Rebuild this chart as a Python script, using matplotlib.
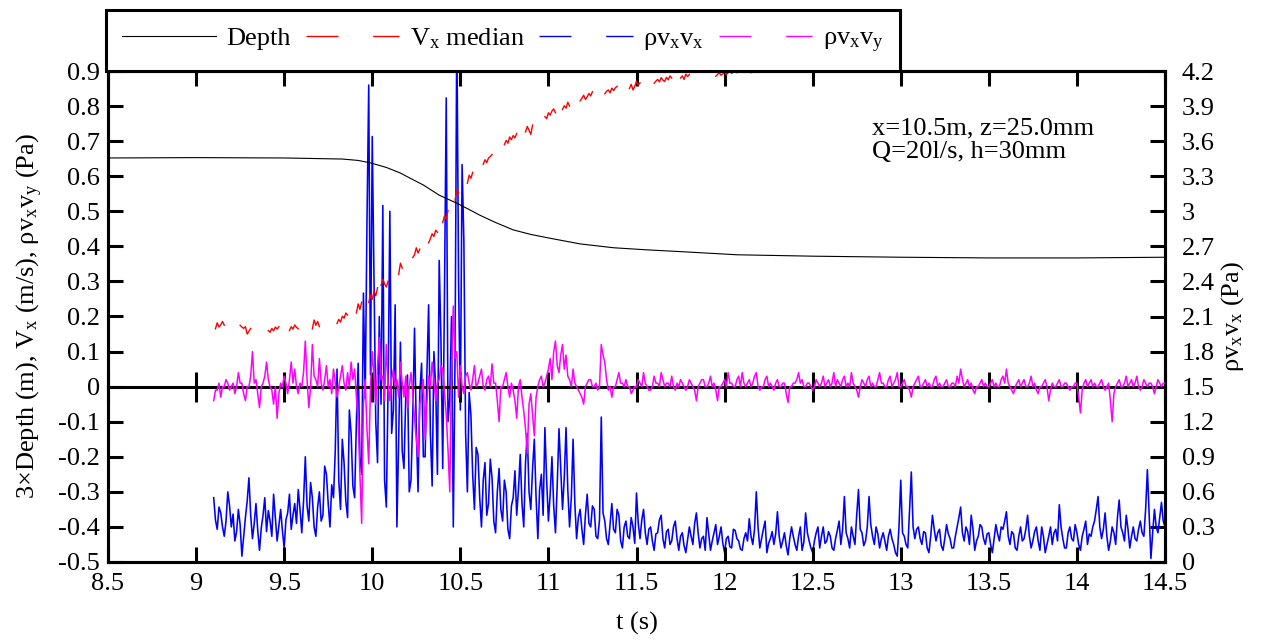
import numpy as np
import matplotlib
matplotlib.use("Agg")
import matplotlib.pyplot as plt
from matplotlib.lines import Line2D
from matplotlib.ticker import FixedLocator, FuncFormatter

plt.rcParams.update({
    "font.family": ["Liberation Serif", "DejaVu Serif"],
    "mathtext.fontset": "custom",
    "mathtext.rm": "Liberation Serif",
    "mathtext.it": "Liberation Serif:italic",
    "axes.unicode_minus": False,
    "font.size": 19,
})

# ---- water depth (3 x depth, m) ----
depth_t = [8.50, 9.00, 9.50, 9.83, 9.92, 9.99, 10.08, 10.16, 10.22, 10.29, 10.38,
           10.48, 10.55, 10.61, 10.70, 10.80, 10.90, 11.00, 11.18, 11.37, 11.56,
           11.75, 12.07, 12.50, 13.00, 13.50, 14.00, 14.50]
depth_3x = [0.652, 0.653, 0.652, 0.649, 0.645, 0.638, 0.625, 0.609, 0.593, 0.575, 0.546,
            0.523, 0.505, 0.489, 0.468, 0.447, 0.434, 0.424, 0.407, 0.396, 0.390,
            0.385, 0.376, 0.372, 0.369, 0.367, 0.367, 0.369]

# ---- median streamwise velocity (m/s), valid stretches sampled every 0.01 s ----
vx_seg_start = [9.11, 9.25, 9.41, 9.53, 9.66, 9.80, 9.91, 9.98, 10.05, 10.15,
                10.23, 10.32, 10.40, 10.47, 10.54, 10.63, 10.75, 10.87, 10.98, 11.08,
                11.18, 11.32, 11.46, 11.60, 11.75, 11.95, 12.15, 12.26, 12.35]
vx_seg_vals = [
    [0.165, 0.182, 0.170, 0.176, 0.186, 0.175],
    [0.175, 0.170, 0.166, 0.171, 0.150, 0.158, 0.166],
    [0.160, 0.155, 0.166, 0.159, 0.170, 0.164, 0.171],
    [0.160, 0.171, 0.164, 0.176, 0.169, 0.165],
    [0.165, 0.190, 0.175, 0.186, 0.171],
    [0.180, 0.192, 0.184, 0.201, 0.195, 0.210, 0.204],
    [0.210, 0.236, 0.220, 0.241],
    [0.240, 0.262, 0.249, 0.272, 0.259, 0.282],
    [0.289, 0.306, 0.293, 0.284, 0.301],
    [0.320, 0.352, 0.338],
    [0.368, 0.376, 0.396, 0.381, 0.392],
    [0.410, 0.422, 0.436, 0.428, 0.446, 0.440],
    [0.468, 0.487, 0.479, 0.502],
    [0.532, 0.562, 0.553],
    [0.580, 0.603, 0.594, 0.611],
    [0.634, 0.647, 0.639, 0.652, 0.656, 0.662],
    [0.690, 0.702, 0.694, 0.712, 0.704, 0.716, 0.709, 0.722],
    [0.726, 0.742, 0.731, 0.719, 0.746],
    [0.770, 0.764, 0.781, 0.774, 0.786, 0.792, 0.781],
    [0.790, 0.801, 0.794, 0.811, 0.800],
    [0.815, 0.822, 0.831, 0.819, 0.826, 0.836, 0.829, 0.841],
    [0.835, 0.842, 0.846, 0.838, 0.851, 0.844, 0.852, 0.856],
    [0.850, 0.862, 0.846, 0.856, 0.871, 0.860, 0.866],
    [0.865, 0.871, 0.876, 0.869, 0.881, 0.874, 0.870, 0.882, 0.875, 0.886, 0.880],
    [0.880, 0.886, 0.876, 0.891, 0.884, 0.890],
    [0.885, 0.890, 0.895, 0.888, 0.892, 0.897, 0.890, 0.895, 0.899, 0.893, 0.897,
     0.900, 0.895, 0.898, 0.900, 0.897],
    [0.895, 0.898, 0.900, 0.896, 0.899, 0.901],
    [0.898, 0.900, 0.897, 0.902],
    [0.899, 0.901, 0.903, 0.900, 0.905],
]

# ---- Reynolds stresses (Pa), sampled every 0.01 s from 9.10 s to 14.50 s ----
turb_t0, turb_dt = 9.10, 0.01
rho_vxvx = [
    0.55, 0.36, 0.28, 0.47, 0.42, 0.30, 0.22, 0.35, 0.60, 0.48, 0.30, 0.41, 0.18, 0.26, 0.45, 0.32, 0.05, 0.22, 0.38, 0.52,
    0.72, 0.40, 0.20, 0.33, 0.50, 0.27, 0.10, 0.29, 0.40, 0.55, 0.26, 0.44, 0.35, 0.22, 0.58, 0.38, 0.18, 0.31, 0.45, 0.27,
    0.12, 0.36, 0.42, 0.58, 0.28, 0.40, 0.50, 0.33, 0.62, 0.45, 0.25, 0.52, 0.90, 0.48, 0.35, 0.68, 0.55, 0.30, 0.22, 0.47,
    0.60, 0.35, 0.40, 0.82, 0.75, 0.50, 0.30, 0.66, 0.55, 0.95, 1.65, 0.70, 0.45, 1.05, 0.85, 0.52, 0.38, 1.30, 1.10, 0.65,
    0.55, 1.20, 1.70, 0.90, 0.75, 2.30, 1.40, 2.90, 4.08, 1.60, 3.64, 2.40, 1.20, 0.85, 2.10, 1.35, 3.05, 0.70, 0.47, 1.50,
    3.00, 1.10, 1.30, 2.20, 0.30, 1.05, 1.88, 0.95, 0.80, 1.40, 1.60, 0.60, 0.70, 1.25, 2.00, 1.15, 0.60, 1.45, 1.70, 0.90,
    0.90, 1.60, 2.20, 1.10, 0.65, 1.80, 1.50, 0.75, 2.58, 1.90, 0.80, 2.30, 3.97, 1.20, 1.40, 2.10, 0.30, 1.75, 4.60, 2.40,
    1.30, 3.40, 2.75, 1.10, 0.60, 1.45, 1.26, 0.75, 0.45, 0.98, 0.92, 0.55, 0.30, 0.70, 0.85, 0.40, 0.50, 0.88, 0.72, 0.35,
    0.25, 0.60, 0.80, 0.45, 0.35, 0.70, 0.60, 0.28, 0.20, 0.48, 0.55, 0.78, 0.40, 0.62, 0.92, 0.50, 0.30, 0.85, 1.10, 0.60,
    0.45, 0.80, 1.05, 0.55, 0.20, 0.62, 0.75, 0.40, 1.15, 0.70, 0.35, 0.58, 0.90, 0.48, 0.25, 0.66, 1.14, 0.80, 0.45, 0.72,
    1.15, 0.62, 0.30, 0.55, 1.05, 0.50, 0.20, 0.38, 0.45, 0.28, 0.15, 0.40, 0.58, 0.33, 0.30, 0.48, 0.45, 0.22, 0.20, 0.36,
    1.24, 0.42, 0.35, 0.20, 0.15, 0.32, 0.50, 0.28, 0.25, 0.45, 0.40, 0.18, 0.12, 0.30, 0.35, 0.22, 0.20, 0.38, 0.30, 0.16,
    0.59, 0.33, 0.20, 0.36, 0.45, 0.25, 0.15, 0.28, 0.30, 0.18, 0.10, 0.24, 0.25, 0.36, 0.40, 0.20, 0.12, 0.26, 0.28, 0.15,
    0.18, 0.30, 0.35, 0.20, 0.10, 0.22, 0.25, 0.14, 0.08, 0.19, 0.30, 0.22, 0.15, 0.33, 0.42, 0.25, 0.12, 0.20, 0.22, 0.10,
    0.38, 0.24, 0.10, 0.18, 0.25, 0.32, 0.15, 0.22, 0.30, 0.16, 0.08, 0.20, 0.22, 0.13, 0.12, 0.28, 0.27, 0.20, 0.18, 0.11,
    0.10, 0.20, 0.25, 0.18, 0.37, 0.22, 0.15, 0.28, 0.60, 0.30, 0.12, 0.20, 0.28, 0.35, 0.08, 0.16, 0.20, 0.26, 0.15, 0.24,
    0.43, 0.22, 0.12, 0.18, 0.25, 0.14, 0.06, 0.20, 0.30, 0.22, 0.15, 0.10, 0.22, 0.30, 0.10, 0.17, 0.42, 0.25, 0.18, 0.12,
    0.08, 0.18, 0.25, 0.30, 0.12, 0.22, 0.30, 0.16, 0.18, 0.26, 0.22, 0.12, 0.10, 0.20, 0.27, 0.35, 0.15, 0.28, 0.56, 0.25,
    0.20, 0.12, 0.30, 0.22, 0.15, 0.40, 0.62, 0.28, 0.25, 0.14, 0.18, 0.30, 0.56, 0.32, 0.22, 0.15, 0.30, 0.24, 0.12, 0.20,
    0.25, 0.18, 0.10, 0.22, 0.28, 0.20, 0.15, 0.08, 0.05, 0.30, 0.70, 0.25, 0.22, 0.15, 0.12, 0.45, 0.77, 0.30, 0.20, 0.28,
    0.30, 0.20, 0.15, 0.26, 0.25, 0.12, 0.08, 0.22, 0.40, 0.28, 0.18, 0.25, 0.28, 0.14, 0.10, 0.20, 0.32, 0.24, 0.20, 0.12,
    0.12, 0.22, 0.30, 0.38, 0.47, 0.25, 0.18, 0.30, 0.26, 0.15, 0.40, 0.28, 0.10, 0.18, 0.22, 0.32, 0.30, 0.20, 0.15, 0.24,
    0.25, 0.15, 0.08, 0.20, 0.32, 0.24, 0.18, 0.30, 0.28, 0.35, 0.43, 0.22, 0.15, 0.26, 0.24, 0.12, 0.10, 0.22, 0.30, 0.18,
    0.20, 0.28, 0.40, 0.22, 0.12, 0.18, 0.26, 0.30, 0.18, 0.10, 0.30, 0.22, 0.08, 0.15, 0.22, 0.30, 0.15, 0.25, 0.28, 0.18,
    0.49, 0.30, 0.20, 0.12, 0.12, 0.25, 0.30, 0.20, 0.18, 0.32, 0.25, 0.15, 0.10, 0.22, 0.28, 0.35, 0.15, 0.24, 0.22, 0.30,
    0.35, 0.45, 0.56, 0.30, 0.20, 0.28, 0.42, 0.22, 0.10, 0.18, 0.30, 0.25, 0.15, 0.38, 0.53, 0.30, 0.25, 0.18, 0.40, 0.28,
    0.12, 0.22, 0.30, 0.20, 0.18, 0.28, 0.35, 0.25, 0.22, 0.45, 0.79, 0.40, 0.03, 0.25, 0.45, 0.30, 0.25, 0.38, 0.51, 0.35,
    0.30,
]
rho_vxvy = [
    -0.04, -0.01, -0.01, 0.01, -0.03, 0.00, 0.00, 0.02, 0.01, -0.01, 0.00, 0.01, -0.02, 0.00, 0.04, 0.01, 0.01, -0.02, -0.04, 0.00,
    0.00, 0.03, 0.10, 0.01, 0.02, -0.02, -0.06, 0.00, 0.01, 0.03, 0.07, 0.02, 0.00, -0.01, -0.05, 0.00, -0.09, -0.02, 0.01, 0.00,
    0.03, 0.01, -0.02, 0.02, 0.07, 0.01, 0.05, 0.00, -0.02, 0.01, 0.00, 0.04, 0.13, 0.02, -0.06, 0.00, 0.12, 0.03, 0.02, 0.00,
    0.08, 0.01, -0.01, 0.02, 0.06, 0.00, 0.02, -0.02, 0.05, 0.01, -0.03, 0.00, 0.03, 0.06, 0.01, -0.01, 0.04, 0.00, 0.07, 0.02,
    0.05, -0.03, -0.10, -0.25, -0.39, -0.05, 0.02, -0.12, -0.22, 0.00, 0.10, 0.03, -0.05, 0.06, 0.14, 0.02, 0.03, -0.04, 0.12, 0.01,
    -0.04, 0.02, 0.05, 0.00, 0.02, -0.03, 0.07, 0.01, -0.03, 0.03, -0.06, 0.00, 0.04, -0.02, -0.09, -0.15, -0.20, -0.05, -0.02, 0.02,
    -0.15, -0.05, 0.03, 0.00, 0.07, 0.02, -0.04, 0.01, 0.02, 0.06, 0.05, -0.02, -0.08, -0.18, -0.30, 0.05, 0.23, 0.08, 0.10, -0.03,
    0.06, 0.00, -0.02, 0.03, 0.04, 0.01, -0.01, 0.02, 0.06, 0.00, 0.01, 0.03, 0.05, 0.00, -0.01, 0.02, 0.03, 0.00, 0.065, 0.01,
    0.01, -0.04, -0.10, 0.00, 0.00, 0.02, 0.04, 0.00, -0.03, 0.01, -0.01, -0.04, -0.09, 0.00, 0.02, -0.03, -0.07, -0.12, -0.19, -0.05,
    -0.02, -0.08, -0.14, -0.03, 0.00, 0.02, 0.03, 0.00, 0.01, 0.03, 0.05, 0.08, 0.02, 0.10, 0.13, 0.06, 0.04, 0.09, 0.12, 0.05,
    0.09, 0.03, 0.02, 0.00, 0.05, 0.01, 0.00, -0.01, -0.02, -0.03, -0.05, 0.00, 0.01, 0.02, 0.02, 0.00, 0.00, 0.01, -0.01, 0.00,
    0.12, 0.09, 0.07, 0.02, -0.01, 0.00, -0.03, 0.00, 0.00, 0.02, 0.04, 0.01, 0.01, 0.00, 0.02, 0.00, 0.00, -0.02, -0.01, 0.00,
    0.00, 0.02, 0.01, 0.00, 0.04, 0.01, 0.00, -0.01, -0.01, 0.00, 0.03, 0.01, 0.01, 0.00, 0.04, 0.02, 0.00, 0.01, 0.01, 0.00,
    0.03, 0.00, -0.01, 0.01, 0.00, 0.02, 0.01, 0.00, -0.01, 0.00, 0.02, 0.01, 0.00, -0.01, -0.04, 0.00, 0.01, 0.02, 0.02, 0.00,
    0.00, 0.01, 0.03, 0.00, 0.01, -0.01, -0.04, 0.00, 0.00, 0.01, 0.02, 0.00, 0.04, 0.01, 0.01, 0.00, 0.00, 0.02, 0.03, 0.00,
    0.04, 0.01, 0.00, 0.01, 0.02, 0.00, 0.01, 0.03, 0.04, 0.00, -0.01, 0.00, 0.00, 0.02, 0.03, 0.00, 0.01, 0.00, -0.01, 0.01,
    0.02, 0.00, 0.00, 0.01, 0.01, -0.02, -0.045, 0.00, 0.00, 0.01, 0.01, 0.02, 0.04, 0.01, 0.02, 0.00, 0.00, 0.01, 0.01, 0.00,
    -0.01, 0.00, 0.02, 0.01, 0.00, 0.01, 0.03, 0.00, 0.01, 0.02, 0.00, 0.01, 0.04, 0.00, 0.02, 0.01, 0.00, 0.02, 0.03, 0.00,
    0.01, 0.00, 0.04, 0.01, 0.00, -0.01, -0.03, 0.00, 0.02, 0.01, 0.00, 0.02, 0.03, 0.00, 0.01, 0.00, 0.00, 0.02, 0.04, 0.01,
    0.01, 0.00, 0.00, 0.02, 0.03, 0.00, 0.01, 0.02, 0.04, 0.00, 0.00, 0.01, 0.02, 0.00, 0.00, -0.01, -0.03, 0.00, 0.01, 0.02,
    0.03, 0.00, 0.00, 0.01, 0.02, 0.00, 0.01, 0.00, 0.00, 0.02, 0.03, 0.00, 0.01, 0.00, 0.00, 0.01, 0.02, 0.00, 0.00, 0.01,
    0.01, 0.00, 0.03, 0.01, 0.05, 0.02, 0.00, 0.01, 0.02, 0.00, 0.01, -0.01, -0.02, 0.00, 0.00, 0.01, 0.02, 0.00, 0.01, 0.00,
    0.00, 0.01, 0.02, 0.00, 0.01, 0.00, 0.00, 0.02, 0.03, 0.01, 0.05, 0.01, 0.00, -0.01, -0.02, 0.00, 0.01, 0.02, 0.00, 0.01,
    0.02, 0.00, 0.00, 0.01, 0.03, 0.00, 0.01, -0.01, -0.02, 0.00, 0.00, 0.01, 0.02, 0.00, -0.04, -0.01, 0.01, 0.00, 0.00, 0.01,
    0.02, 0.00, 0.00, 0.01, 0.01, 0.00, -0.01, 0.00, 0.00, 0.01, 0.01, -0.03, -0.075, -0.01, 0.01, 0.02, 0.00, 0.01, 0.02, 0.00,
    0.01, 0.00, 0.00, 0.01, 0.02, 0.00, -0.01, 0.00, 0.01, -0.04, -0.10, -0.02, 0.00, 0.01, 0.02, 0.00, 0.00, 0.01, 0.03, 0.00,
    0.01, 0.02, 0.00, 0.01, 0.03, 0.00, -0.01, 0.00, 0.02, 0.01, 0.00, 0.01, 0.01, 0.00, -0.02, 0.00, 0.02, 0.01, 0.00, 0.01,
    0.01,
]

x_ticks = np.round(np.arange(8.5, 14.51, 0.5), 2)
left_ticks = np.round(np.arange(-0.5, 0.91, 0.1), 2)
right_ticks = np.round(np.arange(0.0, 4.21, 0.3), 2)

# ---- assemble series ----
vx_t, vx_v = [], []
for t0, vals in zip(vx_seg_start, vx_seg_vals):
    vx_t.extend(t0 + 0.01 * np.arange(len(vals)))
    vx_v.extend(vals)
    vx_t.append(np.nan)
    vx_v.append(np.nan)
turb_t = turb_t0 + turb_dt * np.arange(len(rho_vxvx))

W, H = 1270, 641
fig = plt.figure(figsize=(W / 100, H / 100), dpi=100)
ax = fig.add_axes([108 / W, 1 - 562 / H, 1057 / W, 491 / H])
ax2 = ax.twinx()
ax.set_zorder(ax2.get_zorder() + 1)
ax.patch.set_visible(False)


def gfmt(v, pos):
    v = 0.0 if abs(v) < 1e-9 else v
    return "%g" % v


fmt = FuncFormatter(gfmt)
SPW = 2.2
TL = 10.5

ax.set_xlim(8.5, 14.5)
ax.set_ylim(-0.5, 0.9)
ax2.set_ylim(0.0, 4.2)

ax2.plot(turb_t, rho_vxvx, color="#0000ff", lw=1.15, zorder=2)
ax.plot(depth_t, depth_3x, color="black", lw=0.8, zorder=2)
ax.plot(vx_t, vx_v, color="#ff0000", lw=1.0, zorder=3)
ax.plot(turb_t, rho_vxvy, color="#ff00ff", lw=1.1, zorder=4)

ax.xaxis.set_major_locator(FixedLocator(x_ticks))
ax.xaxis.set_major_formatter(fmt)
ax.yaxis.set_major_locator(FixedLocator(left_ticks))
ax.yaxis.set_major_formatter(fmt)
ax2.yaxis.set_major_locator(FixedLocator(right_ticks))
ax2.yaxis.set_major_formatter(fmt)

ax.tick_params(axis="x", direction="in", top=True, length=TL, width=SPW, pad=8, labelsize=19)
ax.tick_params(axis="y", direction="in", right=False, length=TL, width=SPW, pad=6, labelsize=19)
ax2.tick_params(axis="y", direction="in", length=TL, width=SPW, pad=12, labelsize=19)
for a in (ax, ax2):
    for s in a.spines.values():
        s.set_linewidth(SPW)

# zero axis with ticks on both sides
zero_ax = ax.secondary_xaxis(0.5 / 1.4)
zero_ax.xaxis.set_major_locator(FixedLocator(x_ticks))
zero_ax.tick_params(axis="x", direction="inout", length=2 * TL, width=SPW,
                    labelbottom=False, labeltop=False)
for s in zero_ax.spines.values():
    s.set_linewidth(SPW)

ax.set_xlabel("t (s)", fontsize=19, labelpad=12)
ax.set_ylabel(r"3×Depth (m), V$_\mathregular{x}$ (m/s), ρv$_\mathregular{x}$v$_\mathregular{y}$ (Pa)",
              fontsize=19)
ax.yaxis.set_label_coords(-0.0596, 0.5)
ax2.set_ylabel(r"ρv$_\mathregular{x}$v$_\mathregular{x}$ (Pa)", fontsize=19)
ax2.yaxis.set_label_coords(1.051, 0.5)

ax.text(0.723, 0.905, "x=10.5m, z=25.0mm\nQ=20l/s, h=30mm", transform=ax.transAxes,
        ha="left", va="top", fontsize=19, linespacing=1.1)

dash = (23.0, 25.0)
handles = [
    Line2D([], [], color="black", lw=0.8),
    Line2D([], [], color="#ff0000", lw=1.0, dashes=dash),
    Line2D([], [], color="#0000ff", lw=1.0, dashes=dash),
    Line2D([], [], color="#ff00ff", lw=1.0, dashes=dash),
]
labels = ["Depth", r"V$_\mathregular{x}$ median",
          r"ρv$_\mathregular{x}$v$_\mathregular{x}$", r"ρv$_\mathregular{x}$v$_\mathregular{y}$"]
leg = ax.legend(handles, labels, ncol=4, loc="upper left",
                bbox_to_anchor=(106 / W, 1 - 10 / H), bbox_transform=fig.transFigure,
                borderaxespad=0, frameon=True, fancybox=False, framealpha=1,
                edgecolor="black", handlelength=3.55, handletextpad=0.4,
                columnspacing=0.55, borderpad=0.62, fontsize=19)
leg.get_frame().set_linewidth(SPW)

fig.savefig("out.png", dpi=100)
